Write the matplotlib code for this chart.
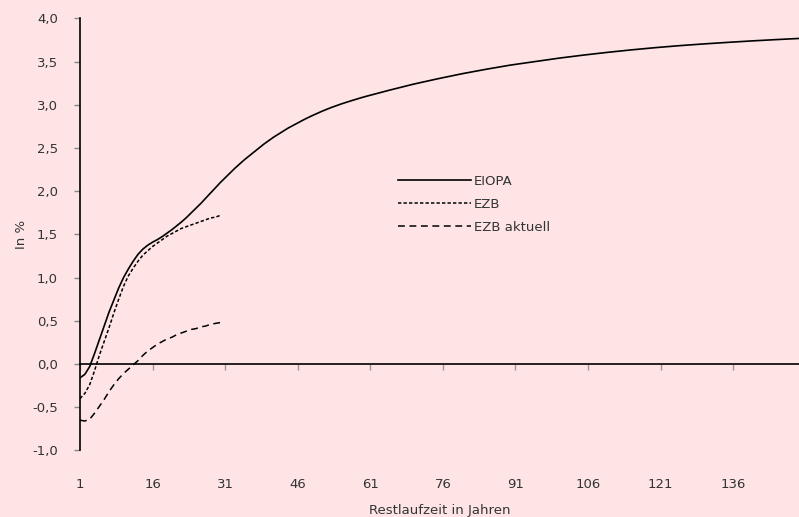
import matplotlib
matplotlib.use("Agg")
import matplotlib.pyplot as plt

# ---- data ----
years_eiopa = list(range(1, 61)) + list(range(65, 151, 5))
eiopa = [-0.16, -0.12, -0.03, 0.12, 0.28, 0.44, 0.60, 0.74, 0.88, 1.00,
         1.10, 1.19, 1.27, 1.33, 1.375, 1.41, 1.44, 1.475, 1.515, 1.555,
         1.60, 1.645, 1.695, 1.75, 1.805, 1.86, 1.92, 1.98, 2.04, 2.10,
         2.155, 2.21, 2.265, 2.315, 2.365, 2.41, 2.455, 2.50, 2.545, 2.585,
         2.625, 2.66, 2.695, 2.73, 2.76, 2.79, 2.82, 2.848, 2.875, 2.90,
         2.925, 2.948, 2.97, 2.99, 3.01, 3.028, 3.046, 3.063, 3.08, 3.096,
         3.17, 3.24, 3.302, 3.36, 3.412, 3.46, 3.50, 3.54, 3.575, 3.607,
         3.636, 3.662, 3.685, 3.705, 3.723, 3.74, 3.755, 3.769]
years_ezb = list(range(1, 31))
ezb = [-0.40, -0.34, -0.24, -0.08, 0.10, 0.26, 0.42, 0.59, 0.75, 0.90,
       1.02, 1.11, 1.19, 1.26, 1.31, 1.36, 1.40, 1.44, 1.48, 1.51,
       1.54, 1.57, 1.59, 1.61, 1.63, 1.65, 1.67, 1.69, 1.70, 1.72]
ezb_aktuell = [-0.65, -0.66, -0.64, -0.57, -0.49, -0.41, -0.32, -0.24, -0.17, -0.11,
               -0.06, -0.01, 0.04, 0.10, 0.15, 0.19, 0.23, 0.26, 0.29, 0.31,
               0.34, 0.36, 0.38, 0.40, 0.41, 0.43, 0.44, 0.46, 0.47, 0.48]
x_ticks = [1, 16, 31, 46, 61, 76, 91, 106, 121, 136]
y_ticks = [-1.0, -0.5, 0.0, 0.5, 1.0, 1.5, 2.0, 2.5, 3.0, 3.5, 4.0]
y_labels = [f"{v:.1f}".replace(".", ",") for v in y_ticks]
labels = ["EIOPA", "EZB", "EZB aktuell"]

bg = "#fee4e5"
txt = "#333333"
fs = 9.5
plt.rcParams['font.family'] = ['DejaVu Sans']

fig = plt.figure(figsize=(7.99, 5.17), dpi=100, facecolor=bg)
ax = fig.add_axes([0.1001, 0.1288, 0.8999, 0.8356], facecolor=bg)

ax.plot(years_eiopa, eiopa, color="black", lw=1.2, label=labels[0])
ax.plot(years_ezb, ezb, color="black", lw=1.1, dashes=(2.2, 1.4), label=labels[1])
ax.plot(years_ezb, ezb_aktuell, color="black", lw=1.1, dashes=(4.5, 3.0), label=labels[2])

ax.set_xlim(1, 149.6)
ax.set_ylim(-1.0, 4.0)

for s in ["top", "right"]:
    ax.spines[s].set_visible(False)
ax.spines["left"].set_color("black")
ax.spines["left"].set_linewidth(1.2)
ax.spines["bottom"].set_position(("data", 0))
ax.spines["bottom"].set_color("black")
ax.spines["bottom"].set_linewidth(1.2)

ax.set_yticks(y_ticks)
ax.set_yticklabels(y_labels)
ax.tick_params(axis="y", direction="out", length=4, width=1, color="#888888",
               labelsize=fs, labelcolor=txt, pad=12)

ax.set_xticks(x_ticks)
ax.tick_params(axis="x", direction="out", length=4, width=1, color="#999999",
               labelbottom=False)

sec = ax.secondary_xaxis("bottom")
sec.set_xticks(x_ticks)
sec.set_xticklabels([str(t) for t in x_ticks])
sec.tick_params(axis="x", length=0, labelsize=fs, labelcolor=txt, pad=20)
sec.spines["bottom"].set_visible(False)
sec.set_xlabel("Restlaufzeit in Jahren", fontsize=fs, color=txt, labelpad=9)

ax.set_ylabel("In %", fontsize=fs, color=txt, labelpad=3)

leg = ax.legend(loc="upper left", bbox_to_anchor=(0.426, 0.665), frameon=False,
                fontsize=fs, handlelength=5.5, handletextpad=0.25,
                labelspacing=0.74, labelcolor=txt)

fig.savefig("out.png", dpi=100, facecolor=bg)
